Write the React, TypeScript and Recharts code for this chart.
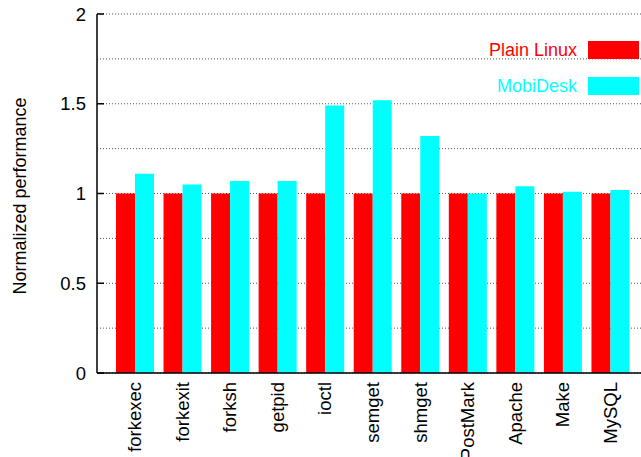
import { BarChart, Bar, XAxis, YAxis, CartesianGrid } from 'recharts';

const categories = ['forkexec', 'forkexit', 'forksh', 'getpid', 'ioctl', 'semget', 'shmget', 'PostMark', 'Apache', 'Make', 'MySQL'];
const plainLinux = [1, 1, 1, 1, 1, 1, 1, 1, 1, 1, 1];
const mobiDesk = [1.11, 1.05, 1.07, 1.07, 1.49, 1.52, 1.32, 1.0, 1.04, 1.01, 1.02];
const yTicks = [0, 0.25, 0.5, 0.75, 1, 1.25, 1.5, 1.75, 2];

const series = [
  { key: 'plain', name: 'Plain Linux', color: '#ff0000' },
  { key: 'mobi', name: 'MobiDesk', color: '#00ffff' },
];

const data = categories.map((name, i) => ({ name, plain: plainLinux[i], mobi: mobiDesk[i] }));

const font = '"Liberation Sans", Arial, sans-serif';

function YTick({ x, y, payload }: any) {
  const v = payload.value as number;
  const major = Math.abs(v * 2 - Math.round(v * 2)) < 1e-6;
  if (!major) return null;
  return (
    <g>
      <line x1={x} x2={x + 7} y1={y} y2={y} stroke="#000" strokeWidth={1.5} />
      <text x={x - 11} y={y} textAnchor="end" dominantBaseline="central" fontSize={18.5} fontFamily={font} fill="#000">
        {String(v)}
      </text>
    </g>
  );
}

function BottomTick({ x, y, payload }: any) {
  return (
    <text
      x={x}
      y={y}
      transform={`rotate(-90, ${x}, ${y})`}
      textAnchor="end"
      dominantBaseline="central"
      fontSize={18.5}
      fontFamily={font}
      fill="#000"
    >
      {payload.value}
    </text>
  );
}

function TopTick({ x, y }: any) {
  return <line x1={x} x2={x} y1={y} y2={y + 6} stroke="#000" strokeWidth={1.5} />;
}

// gnuplot-style key in the top right corner
function KeyBox() {
  return (
    <div style={{ position: 'absolute', left: 0, top: 0, width: 641, height: 120, fontFamily: font, fontSize: 18, pointerEvents: 'none' }}>
      {series.map((s, i) => (
        <div key={s.key}>
          <span
            style={{
              position: 'absolute',
              right: 641 - 577,
              top: 39 + i * 36,
              color: s.color,
              whiteSpace: 'nowrap',
              lineHeight: '22px',
            }}
          >
            {s.name}
          </span>
          <span style={{ position: 'absolute', left: 588, top: 41 + i * 36, width: 51, height: 18, background: s.color }} />
        </div>
      ))}
    </div>
  );
}

export default function App() {
  return (
    <div style={{ position: 'absolute', left: 0, top: 0, width: 641, height: 457, overflow: 'hidden', background: '#fff' }}>
      <BarChart
        width={660}
        height={457}
        data={data}
        margin={{ top: 14, right: 12, bottom: 0, left: 0 }}
        barGap={0}
        barSize={19}
      >
        <CartesianGrid horizontal vertical={false} stroke="#555" strokeDasharray="1 2" />
        <XAxis
          xAxisId="main"
          dataKey="name"
          height={84}
          padding={{ left: 14, right: 14 }}
          axisLine={{ stroke: '#000', strokeWidth: 1.5 }}
          tickLine={false}
          tickSize={0}
          tickMargin={9}
          interval={0}
          tick={<BottomTick />}
        />
        <XAxis
          xAxisId="top"
          dataKey="name"
          orientation="top"
          height={0}
          padding={{ left: 14, right: 14 }}
          axisLine={{ stroke: '#000', strokeWidth: 1.5 }}
          tickLine={false}
          tickSize={0}
          tickMargin={0}
          interval={0}
          tick={<TopTick />}
        />
        <YAxis
          width={97}
          domain={[0, 2]}
          ticks={yTicks}
          interval={0}
          axisLine={{ stroke: '#000', strokeWidth: 1.5 }}
          tickLine={false}
          tickSize={0}
          tickMargin={0}
          tick={<YTick />}
          label={{
            content: () => (
              <text
                x={20}
                y={196}
                transform="rotate(-90, 20, 196)"
                textAnchor="middle"
                dominantBaseline="central"
                fontSize={18}
                fontFamily={font}
                fill="#000"
              >
                Normalized performance
              </text>
            ),
          }}
        />
        {series.map((s) => (
          <Bar key={s.key} xAxisId="main" dataKey={s.key} name={s.name} fill={s.color} isAnimationActive={false} />
        ))}
      </BarChart>
      <KeyBox />
    </div>
  );
}
